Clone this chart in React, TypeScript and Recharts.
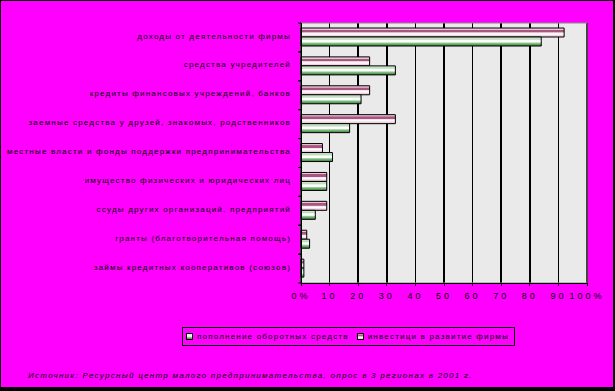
import { Bar, BarChart, CartesianGrid, ReferenceArea, XAxis, YAxis } from "recharts";

const categories = [
  "доходы от деятельности фирмы",
  "средства учредителей",
  "кредиты финансовых учреждений, банков",
  "заемные средства у друзей, знакомых, родственников",
  "местные власти и фонды поддержки предпринимательства",
  "имущество физических и юридических лиц",
  "ссуды других организаций, предприятий",
  "гранты (благотворительная помощь)",
  "займы кредитных кооперативов (союзов)",
];
const investments = [92, 24, 24, 33, 7.5, 9, 9, 2, 1];
const workingCapital = [84, 33, 21, 17, 11, 9, 5, 3, 1];
const xTicks = [0, 10, 20, 30, 40, 50, 60, 70, 80, 90, 100];

const seriesNames = {
  working: "пополнение оборотных средств",
  invest: "инвестици в развитие фирмы",
};
const sourceNote =
  "Источник: Ресурсный центр малого предпринимательства, опрос в 3 регионах в 2001 г.";

const data = categories.map((name, i) => ({
  name,
  invest: investments[i],
  working: workingCapital[i],
}));

const W = 615;
const H = 391;
const PLOT_TOP = 23;
const PLOT_BOTTOM = 283;
const halfBand = (PLOT_BOTTOM - PLOT_TOP) / categories.length / 2;
const font = "Arial, 'Liberation Sans', sans-serif";

function CategoryTick(props: any) {
  const { x, y, payload } = props;
  return (
    <g>
      <line x1={x - 3} x2={x} y1={y - halfBand} y2={y - halfBand} stroke="#000" />
      <line x1={x - 3} x2={x} y1={y + halfBand} y2={y + halfBand} stroke="#000" />
      <text
        x={x - 10}
        y={y - 1}
        textAnchor="end"
        dominantBaseline="middle"
        fontSize={8}
        letterSpacing={1.2}
        fill="#000"
        fontFamily={font}
      >
        {payload.value}
      </text>
    </g>
  );
}

function Swatch({ id }: { id: string }) {
  return (
    <svg width={7} height={7} style={{ display: "block" }}>
      <defs>
        <linearGradient id={id + "-sw"} x1="0" y1="0" x2="0" y2="1">
          {id === "green" ? (
            <>
              <stop offset="0%" stopColor="#cfe8cf" />
              <stop offset="45%" stopColor="#ffffff" />
              <stop offset="70%" stopColor="#7cb87c" />
              <stop offset="100%" stopColor="#3c7c3c" />
            </>
          ) : (
            <>
              <stop offset="0%" stopColor="#e6c3d3" />
              <stop offset="35%" stopColor="#a8557f" />
              <stop offset="60%" stopColor="#ffffff" />
              <stop offset="100%" stopColor="#e0bccc" />
            </>
          )}
        </linearGradient>
      </defs>
      <rect x={0.5} y={0.5} width={6} height={6} fill={`url(#${id}-sw)`} stroke="#000" />
    </svg>
  );
}

export default function App() {
  return (
    <div
      style={{
        position: "relative",
        width: W,
        height: H,
        boxSizing: "border-box",
        background: "#FF00FF",
        borderTop: "1px solid #000",
        borderLeft: "1px solid #000",
        borderRight: "2px solid #000",
        borderBottom: "4px solid #000",
        fontFamily: font,
      }}
    >
      <style>{`body{margin:0}
.recharts-cartesian-grid line, .recharts-cartesian-axis line, .recharts-reference-area rect { shape-rendering: crispEdges; }`}</style>
      <div style={{ position: "absolute", left: -1, top: -1 }}>
        <BarChart
          width={W}
          height={H}
          data={data}
          layout="vertical"
          barGap={0}
          barSize={9}
          margin={{ top: PLOT_TOP, right: 28, bottom: H - PLOT_BOTTOM - 30, left: 0 }}
        >
          <defs>
            <linearGradient id="pinkBar" x1="0" y1="0" x2="0" y2="1">
              <stop offset="0%" stopColor="#e8c6d6" />
              <stop offset="18%" stopColor="#e8c6d6" />
              <stop offset="22%" stopColor="#a8557f" />
              <stop offset="45%" stopColor="#a8557f" />
              <stop offset="52%" stopColor="#f2e0ea" />
              <stop offset="68%" stopColor="#ffffff" />
              <stop offset="82%" stopColor="#f0d8e4" />
              <stop offset="100%" stopColor="#dcb4c8" />
            </linearGradient>
            <linearGradient id="greenBar" x1="0" y1="0" x2="0" y2="1">
              <stop offset="0%" stopColor="#d6ecd6" />
              <stop offset="25%" stopColor="#bcdcbc" />
              <stop offset="40%" stopColor="#ffffff" />
              <stop offset="55%" stopColor="#ffffff" />
              <stop offset="68%" stopColor="#92c892" />
              <stop offset="85%" stopColor="#5a9c5a" />
              <stop offset="100%" stopColor="#3c7c3c" />
            </linearGradient>
          </defs>
          <CartesianGrid
            horizontal={false}
            stroke="#000"
            strokeWidth={1.5}
            strokeOpacity={1}
            fill="#EAEAEA"
          />
          <ReferenceArea x1={0} x2={100} fill="none" stroke="#8a8a8a" strokeWidth={1} />
          <XAxis
            type="number"
            domain={[0, 100]}
            ticks={xTicks}
            interval={0}
            height={30}
            axisLine={{ stroke: "#000" }}
            tickLine={{ stroke: "#000" }}
            tickSize={3}
            tickMargin={7}
            tickFormatter={(v: number) => (v === 0 ? "0%" : v === 100 ? "100%" : String(v))}
            tick={{ fill: "#000", fontSize: 9, letterSpacing: 3, fontFamily: font }}
          />
          <YAxis
            type="category"
            dataKey="name"
            width={301}
            axisLine={{ stroke: "#000" }}
            tickLine={false}
            tickSize={0}
            tickMargin={0}
            interval={0}
            tick={<CategoryTick />}
          />
          <Bar
            dataKey="invest"
            name={seriesNames.invest}
            fill="url(#pinkBar)"
            stroke="#000"
            strokeWidth={1}
            isAnimationActive={false}
          />
          <Bar
            dataKey="working"
            name={seriesNames.working}
            fill="url(#greenBar)"
            stroke="#000"
            strokeWidth={1}
            isAnimationActive={false}
          />
        </BarChart>
      </div>
      <div
        style={{
          position: "absolute",
          left: 181,
          top: 326,
          width: 333,
          height: 19,
          boxSizing: "border-box",
          border: "1px solid #000",
          display: "flex",
          alignItems: "center",
          fontSize: 8,
          letterSpacing: 1.2,
          color: "#000",
          paddingLeft: 3,
        }}
      >
        <Swatch id="green" />
        <span style={{ marginLeft: 4, marginRight: 8 }}>{seriesNames.working}</span>
        <Swatch id="pink" />
        <span style={{ marginLeft: 4 }}>{seriesNames.invest}</span>
      </div>
      <div
        style={{
          position: "absolute",
          left: 27,
          top: 370,
          fontSize: 8,
          fontStyle: "italic",
          letterSpacing: 1.28,
          color: "#000",
          whiteSpace: "nowrap",
        }}
      >
        {sourceNote}
      </div>
    </div>
  );
}
